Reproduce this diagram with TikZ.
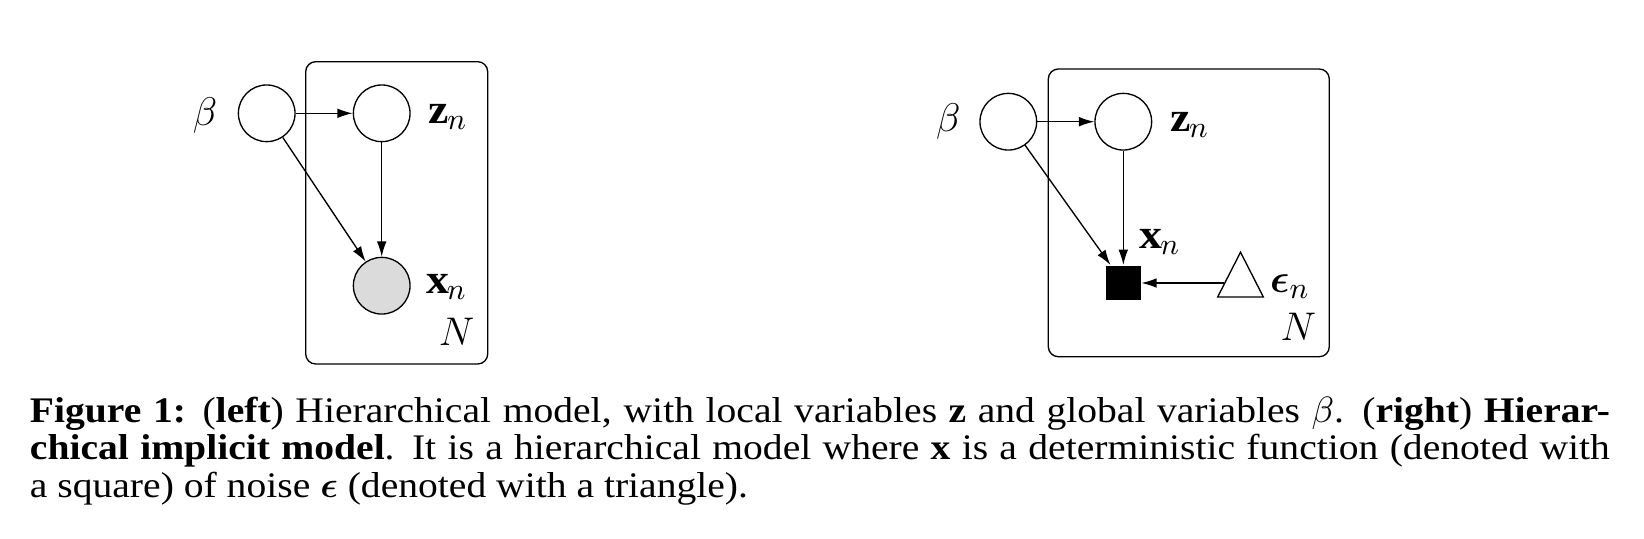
\documentclass[tikz,border=0pt]{standalone}
\usepackage{amsmath}
\usepackage{fontspec}
\setmainfont[FakeStretch=1.1]{Liberation Serif}
\usetikzlibrary{shapes.geometric,arrows.meta}

\newcommand\tightlines{\lineskiplimit=-20pt\relax}

\tikzset{
  latent/.style={circle, draw, line width=0.4pt, minimum size=17pt, inner sep=0pt},
  obs/.style={latent, fill=black!14},
  det/.style={rectangle, fill=black, minimum size=10.4pt, inner sep=0pt},
  noise/.style={isosceles triangle, draw, line width=0.4pt, shape border rotate=90,
    isosceles triangle apex angle=54, inner sep=0pt, minimum height=13.3pt, minimum width=13.7pt},
  edge/.style={-{Latex[length=4.6pt,width=2.9pt]}, line width=0.4pt},
  plate/.style={draw, rounded corners=3pt, line width=0.4pt},
  lbl/.style={font=\fontsize{12.5}{14}\selectfont, inner sep=0pt},
}

\begin{document}
\begin{tikzpicture}[x=0.3pt,y=-0.3pt]
\useasboundingbox (0,0) rectangle (1644,538);

% left: hierarchical model
\draw[plate] (305.7,61.7) rectangle (487.7,364);
\node[latent] (betaL) at (266.7,113.3) {};
\node[latent] (zL) at (381.7,113.3) {};
\node[obs] (xL) at (381.7,285.7) {};

\node[lbl] (betaLlbl) at (205,115) {$\beta$};
\node[lbl] (zLlbl) at (448.3,117) {$\mathbf{z}_n$};
\node[lbl] (xLlbl) at (446.7,287) {$\mathbf{x}_n$};
\node[lbl] (NL) at (456.7,331.7) {$N$};

\draw[edge] (betaL) -- (zL);
\draw[edge] (zL) -- (xL);
\draw[edge] (betaL) -- (xL);

% right: hierarchical implicit model
\draw[plate] (1048.3,69) rectangle (1329.3,356.7);
\node[latent] (betaR) at (1008.3,121.7) {};
\node[latent] (zR) at (1123.3,121.7) {};
\node[det] (xR) at (1123.3,283) {};
\node[noise] (epsR) at (1240.5,283) {};

\node[lbl] (betaRlbl) at (948.3,121.7) {$\beta$};
\node[lbl] (zRlbl) at (1190,125) {$\mathbf{z}_n$};
\node[lbl] (xRlbl) at (1160,242) {$\mathbf{x}_n$};
\node[lbl] (epsRlbl) at (1290,287) {$\boldsymbol{\epsilon}_n$};
\node[lbl] (NR) at (1298.3,326.7) {$N$};

\draw[edge] (betaR) -- (zR);
\draw[edge] (zR) -- (xR);
\draw[edge] (betaR) -- (xR);
\draw[edge] (epsR) -- (xR);

% caption
\node[anchor=north west, inner sep=0pt, text width=474pt, align=justify,
  font=\fontsize{10.8}{11.25}\selectfont\tightlines] (caption) at (29.3,396)
  {\textbf{Figure 1:} (\textbf{left}) Hierarchical model, with local variables \textbf{z} and global variables $\beta$. (\textbf{right}) \textbf{Hierar-\linebreak chical implicit model}. It is a hierarchical model where \textbf{x} is a deterministic function (denoted with\linebreak a square) of noise $\boldsymbol{\epsilon}$ (denoted with a triangle).};
\end{tikzpicture}
\end{document}
